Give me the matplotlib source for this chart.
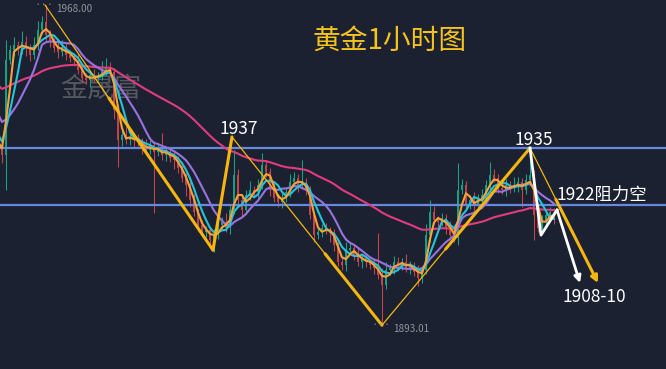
import numpy as np
import pandas as pd
import matplotlib
matplotlib.use('Agg')
import matplotlib.pyplot as plt

plt.rcParams['font.family'] = ['Noto Sans CJK SC', 'DejaVu Sans']

# closes before the visible window (only feed the moving averages)
warmup = [1955.3, 1956.1, 1955.0, 1955.8, 1956.4, 1955.2, 1954.6, 1955.7, 1956.0, 1955.3,
          1954.9, 1955.6, 1956.2, 1955.1, 1954.7, 1955.5, 1955.9, 1955.0, 1955.4, 1955.2,
          1951.6, 1949.3, 1947.2, 1945.3, 1943.1, 1941.1, 1939.2, 1937.6, 1935.9, 1934.5]

close = [1932.9, 1955.1, 1957.5, 1958.6, 1957.5, 1959.3, 1957.9, 1956.3, 1958.6, 1962.1,
         1964.0, 1961.0, 1959.3, 1957.9, 1957.0, 1958.2, 1956.3, 1955.6, 1955.1, 1952.8,
         1950.9, 1950.4, 1951.6, 1950.9, 1951.4, 1952.8, 1953.2, 1952.3, 1943.4, 1936.4,
         1937.6, 1936.4, 1936.9, 1936.4, 1935.9, 1934.5, 1934.0, 1935.2, 1933.6, 1934.0,
         1932.9, 1933.6, 1932.2, 1931.7, 1929.8, 1927.5, 1925.8, 1922.3, 1919.5, 1916.5,
         1914.8, 1915.3, 1913.0, 1914.1, 1916.5, 1917.2, 1915.8, 1920.0, 1928.2, 1922.3,
         1920.0, 1923.5, 1924.7, 1924.2, 1925.8, 1930.5, 1928.9, 1924.7, 1922.8, 1921.9,
         1922.8, 1924.2, 1926.5, 1927.5, 1925.8, 1926.3, 1924.7, 1918.8, 1914.1, 1914.8,
         1915.8, 1915.3, 1914.6, 1911.8, 1907.8, 1907.1, 1910.6, 1911.1, 1909.5, 1907.8,
         1908.7, 1907.8, 1907.1, 1906.4, 1904.8, 1902.4, 1905.9, 1906.4, 1907.8, 1907.1,
         1907.8, 1906.4, 1906.9, 1905.5, 1904.1, 1905.9, 1914.1, 1919.5, 1917.6, 1917.2,
         1918.1, 1915.8, 1914.1, 1913.4, 1924.7, 1925.8, 1921.2, 1922.3, 1921.2, 1922.8,
         1923.5, 1925.8, 1928.2, 1927.5, 1925.1, 1924.7, 1925.8, 1925.1, 1925.8, 1926.5,
         1924.7, 1927.0, 1928.2, 1918.8, 1915.8, 1917.2, 1918.8, 1919.5, 1918.1]

wick_up = [1.5, 4.7, 1.2, 2.0, 1.0, 2.5, 1.5, 1.0, 1.8, 2.2,
           1.5, 4.0, 1.2, 1.0, 2.0, 1.5, 0.8, 1.2, 1.0, 1.5,
           1.0, 1.2, 0.8, 1.5, 1.0, 2.0, 2.5, 1.5, 1.0, 1.5,
           1.0, 2.0, 1.2, 0.8, 1.5, 1.0, 2.0, 1.2, 1.0, 1.5,
           4.0, 1.0, 1.2, 1.5, 1.0, 0.8, 1.2, 1.0, 1.5, 0.8,
           1.2, 1.0, 0.8, 1.5, 1.0, 1.2, 2.0, 1.5, 5.8, 1.5,
           1.0, 1.2, 2.0, 1.0, 1.5, 2.8, 1.2, 1.0, 1.5, 1.0,
           1.2, 1.0, 2.0, 1.5, 1.0, 5.4, 1.2, 1.0, 0.8, 1.5,
           1.0, 1.2, 0.8, 1.0, 1.5, 1.0, 2.0, 1.2, 1.0, 1.5,
           1.0, 1.2, 0.8, 1.5, 8.2, 1.5, 2.0, 1.0, 1.5, 1.2,
           1.0, 2.0, 1.2, 1.0, 1.5, 1.0, 2.5, 2.8, 1.5, 1.0,
           1.2, 1.0, 1.5, 1.0, 6.3, 1.5, 1.0, 1.2, 2.0, 1.0,
           1.5, 1.2, 3.0, 1.5, 1.0, 1.2, 1.5, 1.0, 2.0, 1.2,
           1.0, 1.5, 6.3, 1.2, 1.0, 1.5, 1.0, 1.2, 1.0]

wick_dn = [2.0, 8.2, 1.0, 1.5, 1.2, 1.0, 1.8, 1.5, 1.0, 1.2,
           1.0, 1.5, 1.2, 1.0, 1.5, 1.0, 1.2, 1.0, 1.5, 1.0,
           1.2, 1.0, 1.5, 1.0, 1.2, 1.0, 1.5, 1.0, 2.0, 6.4,
           1.5, 1.0, 1.2, 2.0, 1.0, 1.5, 1.2, 1.0, 14.3, 1.0,
           1.2, 1.5, 1.0, 2.0, 1.2, 1.0, 2.5, 1.5, 1.0, 1.5,
           1.0, 1.2, 1.5, 2.8, 1.0, 1.2, 1.0, 1.5, 1.0, 1.2,
           1.5, 1.0, 1.2, 1.0, 1.5, 1.0, 1.2, 1.5, 1.0, 1.2,
           1.5, 1.0, 1.2, 1.0, 1.5, 1.0, 1.2, 1.0, 1.5, 1.0,
           1.2, 1.0, 2.0, 1.5, 1.0, 1.2, 1.5, 1.0, 1.2, 1.0,
           1.5, 1.2, 1.0, 1.5, 1.0, 9.4, 1.0, 1.2, 1.5, 1.0,
           1.2, 1.0, 1.5, 1.0, 2.0, 1.2, 1.0, 1.5, 1.0, 1.2,
           1.0, 1.5, 1.2, 1.0, 1.5, 1.0, 1.2, 1.0, 1.5, 1.0,
           1.2, 1.0, 1.5, 1.0, 1.2, 1.0, 1.5, 1.2, 1.0, 1.5,
           4.0, 1.0, 1.2, 5.8, 1.0, 1.5, 1.2, 1.0, 1.5]

levels = [1934.5, 1921.2]

# hand drawn swing lines: (bar index, price)
yellow_idx = [10.75, 52.75, 57.5, 95.0, 132.0, 149.0]
yellow_price = [1968.0, 1910.6, 1937.1, 1893.0, 1934.5, 1902.9]
thin_until = [0.42, 0.0, 0.69, 0.46, 0.40]
thick_from = [0.38, 0.0, 0.62, 0.43, 0.38]
white_idx = [132.0, 134.75, 138.75, 144.5]
white_price = [1934.5, 1914.1, 1920.0, 1902.9]

BG = '#1b2130'
GOLD = '#f5b70f'

fig = plt.figure(figsize=(6.66, 3.69), dpi=100, facecolor=BG)
ax = fig.add_axes([0, 0, 1, 1])
ax.set_facecolor(BG)
ax.set_xlim(-0.5, 166.0)
ax.set_ylim(1882.75, 1969.17)
for s in ax.spines.values():
    s.set_visible(False)
ax.set_xticks([])
ax.set_yticks([])

full = pd.Series(warmup + close)
n0 = len(warmup)
x = np.arange(len(close))
xf = np.arange(len(full)) - n0

c = np.array(close)
o = full.shift(1).values[n0:]
hi = np.maximum(o, c) + np.array(wick_up)
lo = np.minimum(o, c) - np.array(wick_dn)
up = c >= o
cols = np.where(up, '#17a083', '#c0444a')

W, H = 666.0, 369.0
# watermark sits under the candles
ax.text(101 / W, 1 - 89 / H, '金晟富', color='#55585e', fontsize=19.5, ha='center',
        va='center', transform=fig.transFigure, zorder=1)

ax.vlines(x, lo, hi, colors=cols, linewidth=0.8, zorder=2)
ax.bar(x, np.maximum(np.abs(c - o), 0.15), bottom=np.minimum(o, c), width=0.55,
       color=cols, linewidth=0, zorder=2)

for lv in levels:
    ax.axhline(lv, color='#6688e0', linewidth=1.6, zorder=3)

ax.plot(xf, full.ewm(span=55).mean(), color='#e23c7e', lw=1.5, zorder=4)
ax.plot(xf, full.rolling(10).mean(), color='#9a72e0', lw=1.5, zorder=4)
ax.plot(xf, full.rolling(5).mean(), color='#22c4dc', lw=1.5, zorder=5)
ax.plot(xf, full.rolling(3).mean(), color='#f5a23a', lw=1.5, zorder=5)

# yellow swing lines, thin at one end and thick at the other
for k in range(len(yellow_idx) - 1):
    x0, x1 = yellow_idx[k], yellow_idx[k + 1]
    y0, y1 = yellow_price[k], yellow_price[k + 1]
    pt = lambda f: (x0 + (x1 - x0) * f, y0 + (y1 - y0) * f)
    if thin_until[k] > 0:
        a, b = pt(0), pt(thin_until[k])
        ax.plot([a[0], b[0]], [a[1], b[1]], color=GOLD, lw=0.9, zorder=6)
    a, b = pt(thick_from[k]), pt(1)
    if k == len(yellow_idx) - 2:
        ax.annotate('', xy=b, xytext=a, zorder=6,
                    arrowprops=dict(arrowstyle='-|>', color=GOLD, lw=2.2,
                                    mutation_scale=10, shrinkA=0, shrinkB=0))
    else:
        ax.plot([a[0], b[0]], [a[1], b[1]], color=GOLD, lw=2.2, zorder=6,
                solid_capstyle='round')

ax.plot(white_idx[:3], white_price[:3], color='white', lw=2.0, zorder=7)
ax.annotate('', xy=(white_idx[3], white_price[3]), xytext=(white_idx[2], white_price[2]),
            zorder=7, arrowprops=dict(arrowstyle='-|>', color='white', lw=2.0,
                                      mutation_scale=10, shrinkA=0, shrinkB=0))

def ftext(px, py, s, **kw):
    fig.text(px / W, 1 - py / H, s, **kw)

ftext(390, 41, '黄金1小时图', color='#f6c21c', fontsize=20, ha='center', va='center')
ftext(239, 129, '1937', color='white', fontsize=12.5, ha='center', va='center')
ftext(534, 140, '1935', color='white', fontsize=12.5, ha='center', va='center')
ftext(557, 195, '1922阻力空', color='white', fontsize=12.5, ha='left', va='center')
ftext(562, 297, '1908-10', color='white', fontsize=12.5, ha='left', va='center')
ftext(56, 9.5, '1968.00', color='#8e949c', fontsize=7.2, ha='left', va='center')
ftext(393, 329, '1893.01', color='#8e949c', fontsize=7.2, ha='left', va='center')
ftext(54, 5, '···', color='#8e949c', fontsize=4.5, ha='right', va='center')
ftext(391, 325, '···', color='#8e949c', fontsize=4.5, ha='right', va='center')

fig.savefig('out.png', dpi=100, facecolor=BG)
